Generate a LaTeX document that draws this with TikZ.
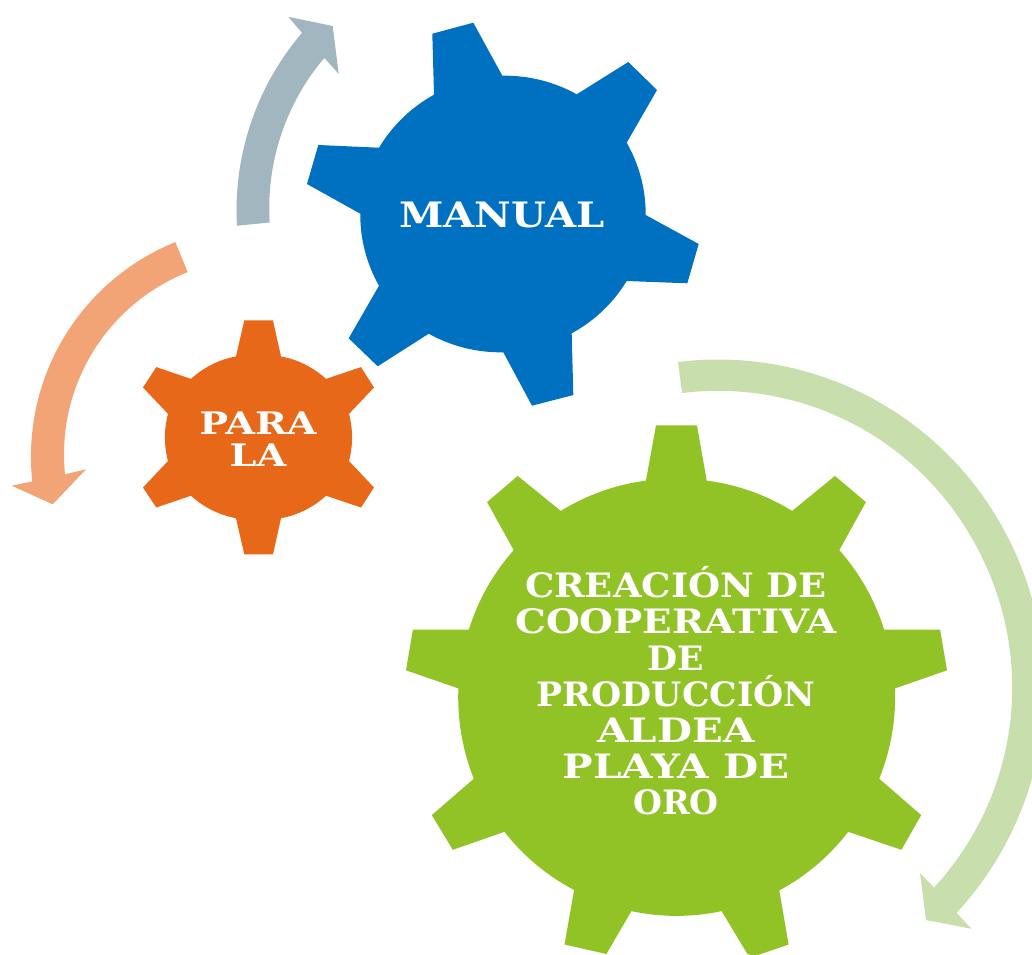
\documentclass[tikz,border=0pt]{standalone}
\usepackage{fontspec}
\usepackage{graphicx}
\setmainfont{DejaVu Serif}
\definecolor{gearblue}{HTML}{0070C0}
\definecolor{gearorange}{HTML}{E8681A}
\definecolor{geargreen}{HTML}{92C326}
\definecolor{arrowgrey}{HTML}{A2B6C0}
\definecolor{arrowpeach}{HTML}{F2A476}
\definecolor{arrowgreen}{HTML}{C8DFAD}
\tikzset{
  garc/.style={bend left=#1,looseness=.87},
  rarc/.style={bend right=#1,looseness=.87},
  gearlabel/.style={text=white,align=center,inner sep=0pt}
}
\newcommand{\labelfont}[3]{\fontsize{#1}{#2}\bfseries\addfontfeature{FakeStretch=#3}\selectfont}
\newcommand{\lw}[2]{\scalebox{#1}[1]{#2}}
\begin{document}
\begin{tikzpicture}[x=1pt,y=-1pt]
\useasboundingbox (0,0) rectangle (1032,954);
\clip (0,0) rectangle (1032,954);
% grey arrow
\fill[arrowgrey] (237,225.7) to[garc=22,looseness=.88] (302,32.9) -- (288.3,16.8) -- (332.7,26) -- (338.7,73.9) -- (324.3,57.9) to[rarc=22,looseness=.88] (269.7,222.5) -- cycle;
% peach arrow
\fill[arrowpeach] (175.3,242.1) to[rarc=37,looseness=.95] (32.3,481.4) -- (11.7,485.7) -- (52.7,504.3) -- (86,469.3) -- (65,474.3) to[garc=37,looseness=.95] (187.7,272.1) -- cycle;
% light green arrow
\fill[arrowgreen] (678,362) to[garc=35,looseness=.94] (1007.4,536.5) to[garc=35,looseness=.94] (956.6,912.8) -- (971.5,928.8) -- (926,920) -- (920,873) -- (934,887.6) to[rarc=35,looseness=.94] (978.8,551.1) to[rarc=35,looseness=.94] (682,393) -- cycle;
% blue gear
\fill[gearblue] (473.3,22.7) -- (502.3,75.7) to[garc=15] (576.7,94.3) -- (628.3,62) -- (657,90) -- (626.7,142.7) to[garc=15] (645.7,215) -- (698.7,244) -- (687.3,283.3) -- (626.7,281) to[garc=15] (571.7,333.3) -- (573.3,395) -- (532,405.7) -- (503.3,352.3) to[garc=15] (428.7,333.7) -- (377.7,366.3) -- (348.7,338.3) -- (379,285.7) to[garc=15] (360.3,213.7) -- (307,184) -- (318.3,145) -- (379,147.7) to[garc=15] (434,94.7) -- (432.3,33.7) -- cycle;
% orange gear
\fill[gearorange] (244.3,320.4) -- (273,320.4) -- (281,356.4) to[garc=16] (326,378.9) -- (361,367.1) -- (374,387.5) -- (349,413.9) to[garc=15] (349,461) -- (374,487.5) -- (361,507.5) -- (326,495.7) to[garc=16] (281,518.2) -- (273,554.3) -- (244.3,554.3) -- (236,518.2) to[garc=16] (191,495.7) -- (156.3,507.5) -- (143,487.5) -- (168,461) to[garc=15] (168,413.9) -- (143,387.5) -- (156.3,367.1) -- (191,378.9) to[garc=16] (236,356.4) -- cycle;
% green gear
\fill[geargreen] (656,425.4) -- (697,425.4) -- (706.7,480.6) to[garc=12] (792.2,510.9) -- (834.9,475.9) -- (865.9,502.1) -- (839.3,550.1) to[garc=12] (884.1,629.5) -- (940.1,629.5) -- (947,670.3) -- (895,688.4) to[garc=12] (879.2,778.7) -- (921.2,815.1) -- (901.4,849.8) -- (848.2,831.8) to[garc=12] (779.3,890.4) -- (788.6,944.5) -- (755,956) -- (747.4,954) -- (721.6,911.1) to[garc=12] (631.4,911.1) -- (606.4,954) -- (564.5,944.5) -- (574.1,890) to[garc=12] (504.4,831.8) -- (452.8,849.8) -- (431.8,815.1) -- (473.8,778.7) to[garc=12] (458.4,688.4) -- (406,670.3) -- (412.9,629.5) -- (468.9,629.5) to[garc=12] (513.7,550.1) -- (487.1,502.1) -- (517.7,475.9) -- (560.8,510.9) to[garc=12] (645.9,480.6) -- cycle;
% labels
\node[gearlabel,font=\labelfont{35}{36}{1.146}] (manual) at (502,214.5) {MANUAL};
\node[gearlabel,font=\labelfont{31}{32.5}{1.235}] (para) at (258,439) {PARA\\LA};
\node[gearlabel,font=\labelfont{33.6}{36.2}{1.155}] (creacion) at (676,691) {\lw{.95}{CREACIÓN DE}\\COOPERATIVA\\\lw{.895}{DE}\\\lw{.893}{PRODUCCIÓN}\\\lw{1.04}{ALDEA}\\\lw{1.046}{PLAYA DE}\\\lw{.857}{ORO}};
\end{tikzpicture}
\end{document}
